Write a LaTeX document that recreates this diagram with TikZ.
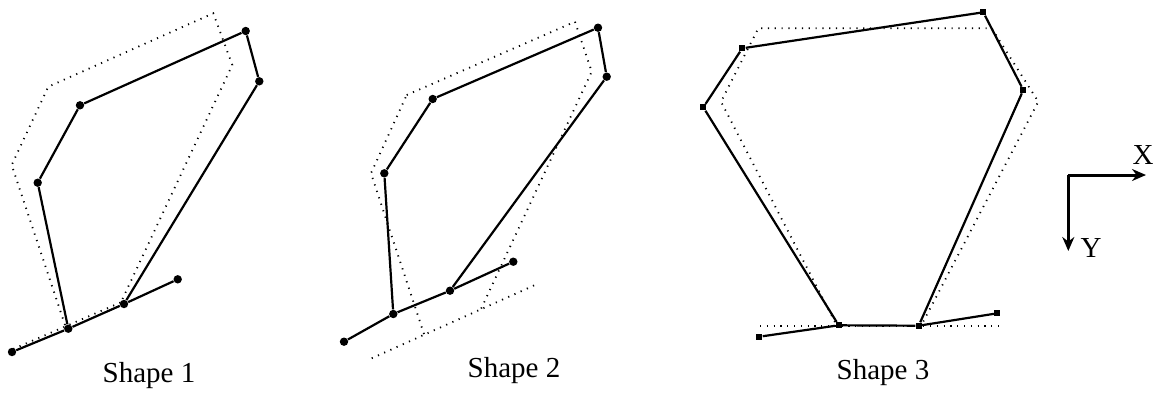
\documentclass[tikz,border=0pt]{standalone}
\usepackage{fontspec}
\setmainfont{Liberation Serif}
\usepackage{tikz}
\usetikzlibrary{arrows.meta}

\begin{document}
\begin{tikzpicture}[x=0.5pt, y=-0.5pt, >={Stealth[length=7pt, width=6pt]},
  pt/.style={circle, fill, inner sep=0pt, minimum size=4.2pt},
  sq/.style={rectangle, fill, inner sep=0pt, minimum size=3pt},
  seg/.style={line width=1.1pt},
  old/.style={line width=0.9pt, dash pattern=on 0.6pt off 2.8pt},
  lbl/.style={font=\fontsize{14.5}{17}\selectfont}]
  \useasboundingbox (0,0) rectangle (1155,392);
  % shape 1
  \draw[old] (65,325) -- (11.7,165) -- (48.3,86.7) -- (213.3,13.3) -- (232.3,65) -- (122,300);
  \draw[old] (13.3,349) -- (124,301);
  \node[pt] (a1) at (245.7,31) {};
  \node[pt] (a2) at (259.3,81.3) {};
  \node[pt] (a3) at (124,304) {};
  \node[pt] (a4) at (68.3,328.7) {};
  \node[pt] (a5) at (37.7,182.7) {};
  \node[pt] (a6) at (80,105.3) {};
  \node[pt] (a7) at (12,352) {};
  \node[pt] (a8) at (177.7,279.3) {};
  \draw[seg] (a6) -- (a1) -- (a2) -- (a3);
  \draw[seg] (a3) -- (a4) -- (a5) -- (a6);
  \draw[seg] (a7) -- (a4);  \draw[seg] (a3) -- (a8);
  \node[lbl] (s1) at (149,376) {Shape 1};
  % shape 2
  \draw[old] (406.7,95) -- (575,21.7) -- (591.7,71.7) -- (481,309);
  \draw[old] (424,334) -- (371,173.3) -- (406.7,95);
  \draw[old] (371.7,358.3) -- (535,285);
  \node[pt] (b1) at (598,27.7) {};
  \node[pt] (b2) at (606.7,76.7) {};
  \node[pt] (b3) at (450,290.7) {};
  \node[pt] (b4) at (393.3,314) {};
  \node[pt] (b5) at (384.3,173.3) {};
  \node[pt] (b6) at (432.7,99) {};
  \node[pt] (b7) at (344,341.7) {};
  \node[pt] (b8) at (513.3,261.7) {};
  \draw[seg] (b6) -- (b1) -- (b2) -- (b3);
  \draw[seg] (b3) -- (b4) -- (b5) -- (b6);
  \draw[seg] (b7) -- (b4);  \draw[seg] (b3) -- (b8);
  \node[lbl] (s2) at (514,371) {Shape 2};
  % shape 3
  \draw[old] (835,322) -- (721,101.7) -- (758.3,28.3) -- (991.7,28.3) -- (1038.3,101.7) -- (922,324);
  \draw[old] (760,326) -- (998.3,326);
  \node[sq] (c1) at (983.3,12.3) {};
  \node[sq] (c2) at (1023.3,90) {};
  \node[sq] (c3) at (918.7,325.7) {};
  \node[sq] (c4) at (838.7,325.3) {};
  \node[sq] (c5) at (703.3,107.3) {};
  \node[sq] (c6) at (742.3,48.3) {};
  \node[sq] (c7) at (759.3,336.7) {};
  \node[sq] (c8) at (997.3,313.3) {};
  \draw[seg] (c6) -- (c1) -- (c2) -- (c3) -- (c4) -- (c5) -- (c6);
  \draw[seg] (c7) -- (c4);  \draw[seg] (c3) -- (c8);
  \node[lbl] (s3) at (883,373) {Shape 3};
  % axes
  \coordinate (o) at (1068.3,175);
  \coordinate (xe) at (1146,175);
  \coordinate (ye) at (1068.3,251);
  \draw[->, line width=1.5pt] (o) -- (xe);
  \draw[->, line width=1.5pt] (o) -- (ye);
  \node[lbl] (xl) at (1143,155) {X};
  \node[lbl] (yl) at (1091,248) {Y};
\end{tikzpicture}
\end{document}
